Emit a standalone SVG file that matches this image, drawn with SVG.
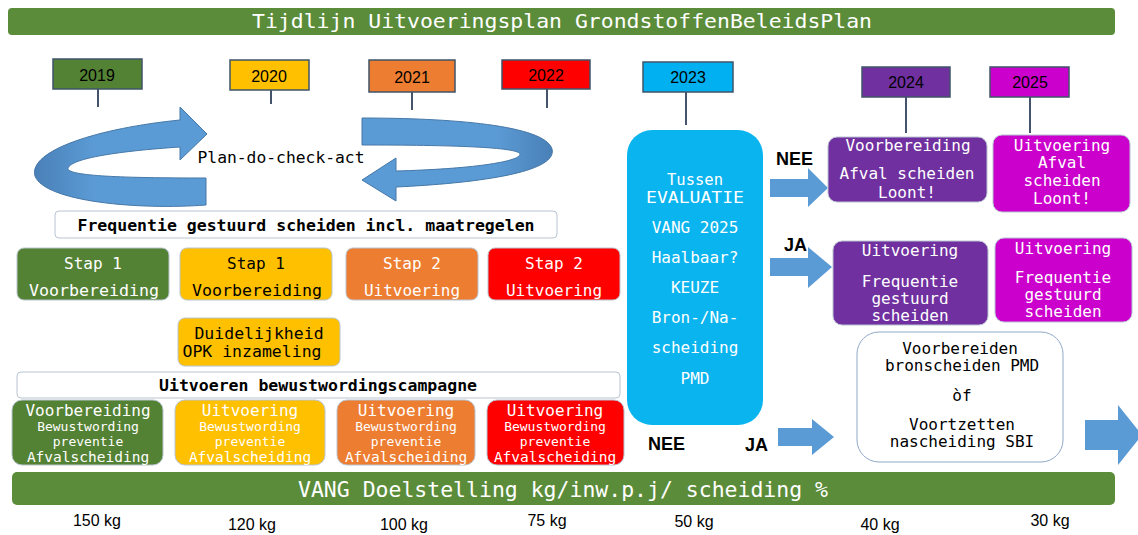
<svg xmlns="http://www.w3.org/2000/svg" width="1138" height="535" viewBox="0 0 1138 535">
<style>
.m{font-family:"DejaVu Sans Mono","Liberation Mono",monospace;text-anchor:middle}
.s{font-family:"Liberation Sans",Arial,sans-serif;text-anchor:middle}
.w{fill:#fff}.k{fill:#000}
.yr{stroke:#3f5468;stroke-width:1.5}
.stem{stroke:#44546a;stroke-width:2}
.bx{stroke:#b8c4d0;stroke-width:1}
.arr{fill:#5b9bd5}
.rib{stroke:#4678a8;stroke-width:1}
.lab{font-family:"Liberation Sans",Arial,sans-serif;font-weight:bold;font-size:18px;fill:#000}
</style>
<defs>
<linearGradient id="gl" x1="0" y1="0" x2="1" y2="0"><stop offset="0" stop-color="#4a80b8"/><stop offset="0.35" stop-color="#5b9bd5"/><stop offset="1" stop-color="#5b9bd5"/></linearGradient>
<linearGradient id="gr" x1="0" y1="0" x2="1" y2="0"><stop offset="0" stop-color="#5b9bd5"/><stop offset="0.7" stop-color="#5b9bd5"/><stop offset="1" stop-color="#4a80b8"/></linearGradient>
</defs>
<rect width="1138" height="535" fill="#fff"/>
<g id="title"><rect x="8" y="8" width="1107" height="27" rx="4" fill="#5b8c3a"/>
<text class="m w" x="562" y="28" font-size="20" textLength="620" lengthAdjust="spacingAndGlyphs">Tijdlijn Uitvoeringsplan GrondstoffenBeleidsPlan</text></g>

<g id="years">
<g id="y2019"><rect class="yr" x="53" y="59" width="89" height="30" fill="#548235"/><line class="stem" x1="98" y1="89" x2="98" y2="107"/><text class="s k" x="97" y="81" font-size="16">2019</text></g>
<g id="y2020"><rect class="yr" x="230" y="60" width="79" height="30" fill="#ffc000"/><line class="stem" x1="271" y1="90" x2="271" y2="104"/><text class="s k" x="269" y="82" font-size="16">2020</text></g>
<g id="y2021"><rect class="yr" x="369" y="60" width="86" height="32" fill="#ed7d31"/><line class="stem" x1="412" y1="92" x2="412" y2="110"/><text class="s k" x="412" y="83" font-size="16">2021</text></g>
<g id="y2022"><rect class="yr" x="502" y="60" width="88" height="29" fill="#ff0000"/><line class="stem" x1="547" y1="89" x2="547" y2="108"/><text class="s k" x="546" y="81" font-size="16">2022</text></g>
<g id="y2023"><rect class="yr" x="643" y="62" width="90" height="30" fill="#00b0f0"/><line class="stem" x1="686" y1="92" x2="686" y2="125"/><text class="s k" x="688" y="83" font-size="16">2023</text></g>
<g id="y2024"><rect class="yr" x="862" y="67" width="88" height="30" fill="#7030a0"/><line class="stem" x1="906" y1="97" x2="906" y2="133"/><text class="s k" x="906" y="88" font-size="16">2024</text></g>
<g id="y2025"><rect class="yr" x="990" y="67" width="79" height="30" fill="#cc00cc"/><line class="stem" x1="1030" y1="97" x2="1030" y2="133"/><text class="s k" x="1030" y="88" font-size="16">2025</text></g>
</g>

<g id="cycle">
<path class="rib" fill="url(#gl)" d="M206,205 C140,210 45,202 35,176 C28,150 100,128 180,120 L180,107 L207,134 L180,160 L180,147 C120,151 72,158 68,168 C66,176 120,178 206,178 Z"/>
<path class="rib" fill="url(#gr)" d="M362,118 C450,118 545,125 552,149 C558,172 480,183 396,187 L396,201 L362,180 L396,158 L396,171 C470,169 520,162 520,154 C518,147 450,145 362,145 Z"/>
<text class="m k" x="281" y="163" font-size="16" textLength="167" lengthAdjust="spacingAndGlyphs">Plan-do-check-act</text>
</g>

<g id="frequentie"><rect class="bx" x="55" y="211" width="502" height="27" rx="4" fill="#fff"/>
<text class="m k" x="306" y="231" font-size="16" font-weight="bold" textLength="457" lengthAdjust="spacingAndGlyphs">Frequentie gestuurd scheiden incl. maatregelen</text></g>

<g id="stap1a"><rect class="bx" x="17" y="248" width="152" height="52" rx="7" fill="#548235"/>
<text class="m w" x="93" y="269" font-size="16">Stap 1</text><text class="m w" x="94" y="296" font-size="16" textLength="130" lengthAdjust="spacingAndGlyphs">Voorbereiding</text></g>
<g id="stap1b"><rect class="bx" x="180" y="248" width="152" height="52" rx="7" fill="#ffc000"/>
<text class="m k" x="256" y="269" font-size="16">Stap 1</text><text class="m k" x="257" y="296" font-size="16" textLength="130" lengthAdjust="spacingAndGlyphs">Voorbereiding</text></g>
<g id="stap2a"><rect class="bx" x="346" y="248" width="132" height="52" rx="7" fill="#ed7d31"/>
<text class="m w" x="412" y="269" font-size="16">Stap 2</text><text class="m w" x="412" y="296" font-size="16" textLength="96" lengthAdjust="spacingAndGlyphs">Uitvoering</text></g>
<g id="stap2b"><rect class="bx" x="488" y="248" width="132" height="52" rx="7" fill="#ff0000"/>
<text class="m w" x="554" y="269" font-size="16">Stap 2</text><text class="m w" x="554" y="296" font-size="16" textLength="96" lengthAdjust="spacingAndGlyphs">Uitvoering</text></g>

<g id="opk"><rect class="bx" x="178" y="318" width="162" height="48" rx="7" fill="#ffc000"/>
<text class="m k" x="259" y="339" font-size="16.5">Duidelijkheid</text><text class="m k" x="252" y="357" font-size="16.5">OPK inzameling</text></g>

<g id="campagne"><rect class="bx" x="17" y="372" width="603" height="26" rx="4" fill="#fff"/>
<text class="m k" x="318" y="391" font-size="16" font-weight="bold" textLength="318" lengthAdjust="spacingAndGlyphs">Uitvoeren bewustwordingscampagne</text></g>

<g id="c2019"><rect class="bx" x="12" y="400" width="151" height="65" rx="10" fill="#548235"/>
<text class="m w" x="88" y="416" font-size="16">Voorbereiding</text><text class="m w" x="88" y="431" font-size="13">Bewustwording</text><text class="m w" x="88" y="446" font-size="13">preventie</text><text class="m w" x="88" y="462" font-size="14.5">Afvalscheiding</text></g>
<g id="c2020"><rect class="bx" x="175" y="400" width="150" height="65" rx="10" fill="#ffc000"/>
<text class="m w" x="250" y="416" font-size="16">Uitvoering</text><text class="m w" x="250" y="431" font-size="13">Bewustwording</text><text class="m w" x="250" y="446" font-size="13">preventie</text><text class="m w" x="250" y="462" font-size="14.5">Afvalscheiding</text></g>
<g id="c2021"><rect class="bx" x="337" y="400" width="138" height="65" rx="10" fill="#ed7d31"/>
<text class="m w" x="406" y="416" font-size="16">Uitvoering</text><text class="m w" x="406" y="431" font-size="13">Bewustwording</text><text class="m w" x="406" y="446" font-size="13">preventie</text><text class="m w" x="406" y="462" font-size="14.5">Afvalscheiding</text></g>
<g id="c2022"><rect class="bx" x="487" y="400" width="137" height="65" rx="10" fill="#ff0000"/>
<text class="m w" x="555" y="416" font-size="16">Uitvoering</text><text class="m w" x="555" y="431" font-size="13">Bewustwording</text><text class="m w" x="555" y="446" font-size="13">preventie</text><text class="m w" x="555" y="462" font-size="14.5">Afvalscheiding</text></g>

<g id="vang"><rect x="12" y="472" width="1103" height="33" rx="5" fill="#5b8c3a"/>
<text class="m w" x="563" y="497" font-size="21" textLength="530" lengthAdjust="spacingAndGlyphs">VANG Doelstelling kg/inw.p.j/ scheiding %</text></g>

<g id="kg" class="s k" font-size="16">
<text x="97" y="526">150 kg</text><text x="252" y="530">120 kg</text><text x="404" y="530">100 kg</text><text x="547" y="526">75 kg</text><text x="694" y="527">50 kg</text><text x="880" y="530">40 kg</text><text x="1050" y="526">30 kg</text>
</g>

<g id="evaluatie"><rect x="627" y="130" width="136" height="295" rx="25" fill="#0ab4ee"/>
<g class="m w" font-size="16">
<text x="695" y="185" font-size="15.5">Tussen</text><text x="695" y="203" font-size="15.5" textLength="98" lengthAdjust="spacingAndGlyphs">EVALUATIE</text><text x="695" y="233">VANG 2025</text><text x="695" y="263">Haalbaar?</text><text x="695" y="293">KEUZE</text><text x="695" y="323">Bron-/Na-</text><text x="695" y="353">scheiding</text><text x="695" y="384">PMD</text>
</g></g>

<g id="connectors">
<path class="arr" d="M770,179 L808,179 L808,168 L828,188 L808,207 L808,197 L770,197 Z"/>
<path class="arr" d="M770,258 L808,258 L808,247 L832,267 L808,288 L808,276 L770,276 Z"/>
<path class="arr" d="M778,428 L812,428 L812,419 L834,437 L812,455 L812,446 L778,446 Z"/>
<path class="arr" d="M1085,420 L1118,420 L1118,405 L1142,435 L1118,465 L1118,450 L1085,450 Z"/>
<text class="lab" x="776" y="165">NEE</text>
<text class="lab" x="784" y="251">JA</text>
<text class="lab" x="648" y="450">NEE</text>
<text class="lab" x="745" y="451">JA</text>
</g>

<g id="p2024a"><rect class="bx" x="828" y="137" width="159" height="65" rx="9" fill="#7030a0"/>
<text class="m w" x="908" y="151" font-size="16">Voorbereiding</text><text class="m w" x="907" y="179" font-size="16">Afval scheiden</text><text class="m w" x="907" y="198" font-size="16">Loont!</text></g>
<g id="p2025a"><rect class="bx" x="993" y="135" width="137" height="77" rx="9" fill="#cc00cc"/>
<text class="m w" x="1062" y="151" font-size="16">Uitvoering</text><text class="m w" x="1062" y="168" font-size="16">Afval</text><text class="m w" x="1062" y="186" font-size="16">scheiden</text><text class="m w" x="1062" y="204" font-size="16">Loont!</text></g>
<g id="p2024b"><rect class="bx" x="833" y="241" width="155" height="84" rx="9" fill="#7030a0"/>
<text class="m w" x="910" y="256" font-size="16">Uitvoering</text><text class="m w" x="910" y="287" font-size="16">Frequentie</text><text class="m w" x="910" y="304" font-size="16">gestuurd</text><text class="m w" x="910" y="321" font-size="16">scheiden</text></g>
<g id="p2025b"><rect class="bx" x="995" y="238" width="137" height="84" rx="9" fill="#cc00cc"/>
<text class="m w" x="1063" y="254" font-size="16">Uitvoering</text><text class="m w" x="1063" y="283" font-size="16">Frequentie</text><text class="m w" x="1063" y="300" font-size="16">gestuurd</text><text class="m w" x="1063" y="317" font-size="16">scheiden</text></g>
<g id="pmd"><rect x="857" y="332" width="206" height="130" rx="22" fill="#fff" stroke="#8ea9c8" stroke-width="1"/>
<text class="m k" x="960" y="354" font-size="16">Voorbereiden</text><text class="m k" x="962" y="371" font-size="16">bronscheiden PMD</text><text class="m k" x="962" y="401" font-size="16">òf</text><text class="m k" x="962" y="430" font-size="16">Voortzetten</text><text class="m k" x="962" y="447" font-size="16">nascheiding SBI</text></g>
</svg>
